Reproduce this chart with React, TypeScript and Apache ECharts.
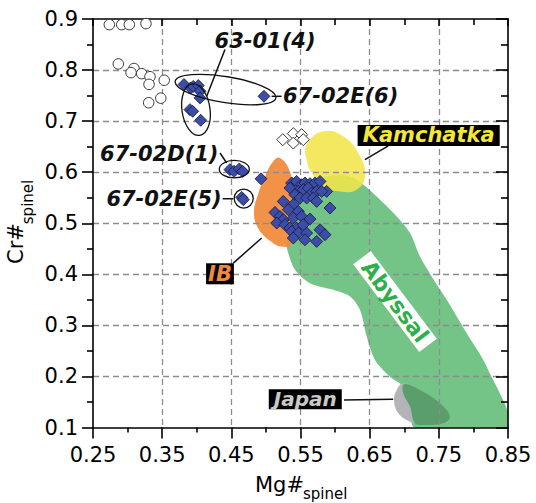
import React, { useEffect, useRef } from "react";
import * as echarts from "echarts";

// ---------- data ----------
const X_MIN = 0.25;
const X_MAX = 0.85;
const Y_MIN = 0.1;
const Y_MAX = 0.9;
const TICK_STEP = 0.1;

// open circles (other samples)
const openCircles: number[][] = [
  [0.2736, 0.889], [0.2915, 0.889], [0.3025, 0.889], [0.3266, 0.891],
  [0.2866, 0.812], [0.3093, 0.803], [0.305, 0.795], [0.3204, 0.793],
  [0.3324, 0.787], [0.353, 0.78], [0.331, 0.772], [0.348, 0.745], [0.3305, 0.736],
];

// open diamonds
const openDiamonds: number[][] = [
  [0.5243, 0.6637], [0.5396, 0.6755], [0.5396, 0.657], [0.5517, 0.6735], [0.554, 0.6637],
];

// blue diamonds, labelled samples
const sample6301: number[][] = [
  [0.3816, 0.7716], [0.3912, 0.765], [0.395, 0.768], [0.4022, 0.7696], [0.4047, 0.7584],
  [0.4047, 0.7455], [0.3902, 0.7225], [0.3941, 0.7192], [0.4057, 0.7016],
];
const sample6702E6: number[][] = [[0.4972, 0.7486]];
const sample6702D1: number[][] = [[0.448, 0.605], [0.4539, 0.6016], [0.4615, 0.6063], [0.4664, 0.6016]];
const sample6702E5: number[][] = [[0.465, 0.5506], [0.4673, 0.5461]];

// blue diamonds, main cluster
const mainCluster: number[][] = [
  [0.4929, 0.587],
  [0.5372, 0.5788], [0.5444, 0.582], [0.5517, 0.5755], [0.5565, 0.5788], [0.5637, 0.5775],
  [0.571, 0.5788], [0.5782, 0.582], [0.5878, 0.5624], [0.5348, 0.569], [0.5468, 0.5624],
  [0.554, 0.5657], [0.5613, 0.569], [0.5662, 0.5592], [0.5734, 0.5624], [0.5806, 0.5624],
  [0.542, 0.5559], [0.5493, 0.5494], [0.5589, 0.5494], [0.5685, 0.5494], [0.5734, 0.5428],
  [0.5926, 0.5298], [0.5251, 0.5428], [0.5396, 0.5363], [0.5324, 0.5265], [0.5468, 0.5232],
  [0.5131, 0.5212], [0.5203, 0.5134], [0.5251, 0.5069], [0.5396, 0.5102], [0.5517, 0.5134],
  [0.5637, 0.5082], [0.5156, 0.5004], [0.5276, 0.4971], [0.5348, 0.4906], [0.5444, 0.4906],
  [0.554, 0.4971], [0.5372, 0.484], [0.5468, 0.4808], [0.5589, 0.4808], [0.5782, 0.4873],
  [0.5854, 0.4775], [0.5396, 0.471], [0.5565, 0.4676], [0.5734, 0.4644],
];

// field outlines
const abyssalField: number[][] = [
  [0.5493, 0.5657], [0.5685, 0.5853], [0.6071, 0.5951], [0.6312, 0.5853], [0.6601, 0.5525],
  [0.6891, 0.5133], [0.7083, 0.4808], [0.7227, 0.4349], [0.7397, 0.3957], [0.7614, 0.35],
  [0.7903, 0.2847], [0.8192, 0.2192], [0.85, 0.1], [0.7155, 0.1], [0.7083, 0.1408],
  [0.6986, 0.18], [0.6794, 0.1996], [0.6577, 0.2324], [0.6457, 0.278], [0.636, 0.3304],
  [0.6216, 0.3565], [0.5974, 0.3696], [0.5637, 0.3827], [0.542, 0.4088], [0.5323, 0.4416],
  [0.53, 0.4612],
];
const japanField: number[][] = [
  [0.6891, 0.1735], [0.6986, 0.1867], [0.7226, 0.1735], [0.7517, 0.1475], [0.7661, 0.1212],
  [0.7564, 0.1082], [0.7275, 0.1049], [0.7083, 0.1114], [0.6914, 0.1278], [0.6852, 0.1539],
];
const japanAbyssalOverlap: number[][] = [
  [0.6996, 0.1847], [0.7226, 0.1735], [0.7517, 0.1475], [0.7661, 0.1212], [0.7564, 0.1082],
  [0.7275, 0.1049], [0.7155, 0.1082], [0.7083, 0.1408], [0.6986, 0.167],
];
const kamchatkaField: number[][] = [
  [0.5589, 0.6539], [0.583, 0.68], [0.6119, 0.6702], [0.636, 0.631], [0.6433, 0.5918],
  [0.6312, 0.5657], [0.6071, 0.5624], [0.583, 0.5722], [0.5662, 0.5984], [0.5589, 0.6245],
];
const ibField: number[][] = [
  [0.5203, 0.6278], [0.5348, 0.601], [0.5406, 0.5559], [0.5435, 0.503], [0.5391, 0.4618],
  [0.5247, 0.4539], [0.5059, 0.4657], [0.4885, 0.4912], [0.4828, 0.5225], [0.4885, 0.5559],
  [0.4986, 0.5912], [0.5102, 0.6206],
];

// ---------- layout / style ----------
const FONT = "'DejaVu Sans', 'Liberation Sans', sans-serif";

const ELLIPSES = [
  { center: [0.4416, 0.7618], rx: 51, ry: 13, rotation: -0.163 },
  { center: [0.3989, 0.7225], rx: 14, ry: 26, rotation: 0.15 },
  { center: [0.4543, 0.6059], rx: 15, ry: 8.8, rotation: 0 },
  { center: [0.4679, 0.5484], rx: 9.5, ry: 9.5, rotation: 0 },
];

const LEADERS = [
  { from: [0.4408, 0.8402], to: [0.4144, 0.7486] },
  { from: [0.5083, 0.7486], to: [0.5227, 0.7486] },
  { from: [0.4336, 0.6376], to: [0.4433, 0.618] },
  { from: [0.4375, 0.548], to: [0.4528, 0.548] },
  { from: [0.6769, 0.6514], to: [0.6432, 0.6245] },
  { from: [0.4528, 0.422], to: [0.4939, 0.471] },
  { from: [0.6129, 0.1539], to: [0.6841, 0.1553] },
];

const LABELS = [
  { text: "63-01(4)", at: [0.4987, 0.8565], align: "center", fill: "#111", italic: true, size: 21 },
  { text: "67-02E(6)", at: [0.5247, 0.7494], align: "left", fill: "#111", italic: true, size: 21 },
  { text: "67-02D(1)", at: [0.4314, 0.6363], align: "right", fill: "#111", italic: true, size: 21 },
  { text: "67-02E(5)", at: [0.4361, 0.548], align: "right", fill: "#111", italic: true, size: 21 },
  { text: "Kamchatka", at: [0.7353, 0.672], align: "center", fill: "#f3e63c", italic: true, bg: "#000", padding: [0, 5], size: 21 },
  { text: "IB", at: [0.4336, 0.401], align: "center", fill: "#f08a3a", italic: true, bg: "#000", padding: [0, 2], size: 21 },
  { text: "Japan", at: [0.5569, 0.1555], align: "center", fill: "#c9c9c9", italic: true, bg: "#000", padding: [0, 5], size: 20 },
  { text: "Abyssal", at: [0.6866, 0.3467], align: "center", fill: "#2eae4c", italic: false, bg: "#fff", padding: [0, 7], rotation: -0.925, size: 22 },
];

function regionSeries(name: string, points: number[][], fill: string, opacity: number, smooth: number) {
  return {
    type: "custom",
    name,
    z: 1,
    silent: true,
    clip: true,
    data: [[0.5, 0.5]],
    renderItem: (_p: any, api: any) => ({
      type: "polygon",
      shape: { points: points.map((pt) => api.coord(pt)), smooth },
      style: { fill, opacity },
    }),
  };
}

function axisBase(extra: any) {
  return {
    type: "value",
    z: 3,
    axisLine: { show: true, onZero: false, lineStyle: { color: "#000", width: 1.6 } },
    splitLine: { show: false },
    ...extra,
  };
}

const gridLine = {
  show: true,
  showMinLine: false,
  showMaxLine: false,
  lineStyle: { color: "#8c8c8c", width: 1.3, type: [6, 4] },
};

const tickStyle = { color: "#000", width: 1.6 };

export default function App() {
  const ref = useRef<HTMLDivElement>(null);

  useEffect(() => {
    if (!ref.current) return;
    const chart = echarts.init(ref.current, null, { renderer: "svg" });

    const option: any = {
      animation: false,
      backgroundColor: "#ffffff",
      grid: { left: 93, right: 28, top: 19, bottom: 75.5, containLabel: false, outerBoundsMode: "none" },
      xAxis: [
        axisBase({
          min: X_MIN, max: X_MAX, interval: TICK_STEP, position: "bottom",
          axisTick: { show: true, inside: false, length: 11, lineStyle: tickStyle },
          minorTick: { show: true, splitNumber: 2, length: 5, lineStyle: tickStyle },
          axisLabel: { show: true, fontSize: 21, color: "#000", fontFamily: FONT, margin: 17, formatter: (v: number) => v.toFixed(2) },
        }),
        axisBase({
          min: X_MIN, max: X_MAX, interval: TICK_STEP, position: "top",
          axisTick: { show: true, inside: true, length: 7, lineStyle: tickStyle },
          minorTick: { show: true, splitNumber: 2, length: 6, lineStyle: tickStyle },
          axisLabel: { show: false },
          splitLine: gridLine,
        }),
      ],
      yAxis: [
        axisBase({
          min: Y_MIN, max: Y_MAX, interval: TICK_STEP, position: "left",
          axisTick: { show: true, inside: false, length: 11, lineStyle: tickStyle },
          minorTick: { show: true, splitNumber: 2, length: 6, lineStyle: tickStyle },
          axisLabel: { show: true, fontSize: 21, color: "#000", fontFamily: FONT, margin: 15, formatter: (v: number) => v.toFixed(1) },
        }),
        axisBase({
          min: Y_MIN, max: Y_MAX, interval: TICK_STEP, position: "right",
          axisTick: { show: true, inside: true, length: 12, lineStyle: tickStyle },
          minorTick: { show: true, splitNumber: 2, length: 7, lineStyle: tickStyle },
          axisLabel: { show: false },
          splitLine: gridLine,
        }),
      ],
      graphic: [
        { type: "text", x: 255, y: 485, style: { text: "Mg#", fontSize: 21, fontFamily: FONT, fill: "#000", align: "left", verticalAlign: "middle" } },
        { type: "text", x: 303, y: 494, style: { text: "spinel", fontSize: 15, fontFamily: FONT, fill: "#000", align: "left", verticalAlign: "middle" } },
        { type: "text", x: 16, y: 243.5, rotation: Math.PI / 2, style: { text: "Cr#", fontSize: 21, fontFamily: FONT, fill: "#000", align: "center", verticalAlign: "middle" } },
        { type: "text", x: 27.5, y: 202, rotation: Math.PI / 2, style: { text: "spinel", fontSize: 15, fontFamily: FONT, fill: "#000", align: "center", verticalAlign: "middle" } },
      ],
      series: [
        regionSeries("Abyssal", abyssalField, "#74c387", 1, 0.3),
        regionSeries("Japan", japanField, "#b4b4b8", 1, 0.4),
        regionSeries("JapanOverlap", japanAbyssalOverlap, "#5a9f6b", 1, 0.4),
        regionSeries("Kamchatka", kamchatkaField, "#f1e54a", 0.88, 0.45),
        regionSeries("IB", ibField, "#f08a3a", 0.93, 0.45),
        {
          type: "scatter", name: "open circles", z: 5, symbol: "circle", symbolSize: 10.5,
          itemStyle: { color: "#ffffff", borderColor: "#222", borderWidth: 0.9, opacity: 1 },
          data: openCircles,
        },
        {
          type: "scatter", name: "open diamonds", z: 5, symbol: "diamond", symbolSize: 12,
          itemStyle: { color: "#ffffff", borderColor: "#222", borderWidth: 0.9, opacity: 1 },
          data: openDiamonds,
        },
        ...[sample6301, sample6702E6, sample6702D1, sample6702E5, mainCluster].map((d, i) => ({
          type: "scatter", name: "blue" + i, z: 6, symbol: "diamond", symbolSize: 12,
          itemStyle: { color: "#3b4da8", borderColor: "#15183a", borderWidth: 0.8, opacity: 1 },
          data: d,
        })),
        {
          type: "custom",
          name: "annotations",
          z: 7,
          silent: true,
          clip: false,
          data: [[0.5, 0.5]],
          renderItem: (_p: any, api: any) => {
            const children: any[] = [];
            ELLIPSES.forEach((e) => {
              const c = api.coord(e.center);
              children.push({
                type: "ellipse", x: c[0], y: c[1], rotation: e.rotation,
                shape: { cx: 0, cy: 0, rx: e.rx, ry: e.ry },
                style: { fill: "none", stroke: "#111", lineWidth: 1.3 },
              });
            });
            LEADERS.forEach((l) => {
              const a = api.coord(l.from);
              const b = api.coord(l.to);
              children.push({
                type: "line",
                shape: { x1: a[0], y1: a[1], x2: b[0], y2: b[1] },
                style: { stroke: "#111", lineWidth: 1.5 },
              });
            });
            LABELS.forEach((t: any) => {
              const c = api.coord(t.at);
              children.push({
                type: "text", x: c[0], y: c[1], rotation: t.rotation || 0,
                style: {
                  text: t.text, fill: t.fill, fontSize: t.size || 20, fontFamily: FONT,
                  fontWeight: "bold", fontStyle: t.italic ? "italic" : "normal",
                  align: t.align, verticalAlign: "middle",
                  backgroundColor: t.bg, padding: t.padding,
                },
              });
            });
            return { type: "group", children };
          },
        },
      ],
    };

    chart.setOption(option);
    return () => chart.dispose();
  }, []);

  return (
    <div
      ref={ref}
      style={{ position: "fixed", left: 0, top: 0, width: 536, height: 503, background: "#fff" }}
    />
  );
}
